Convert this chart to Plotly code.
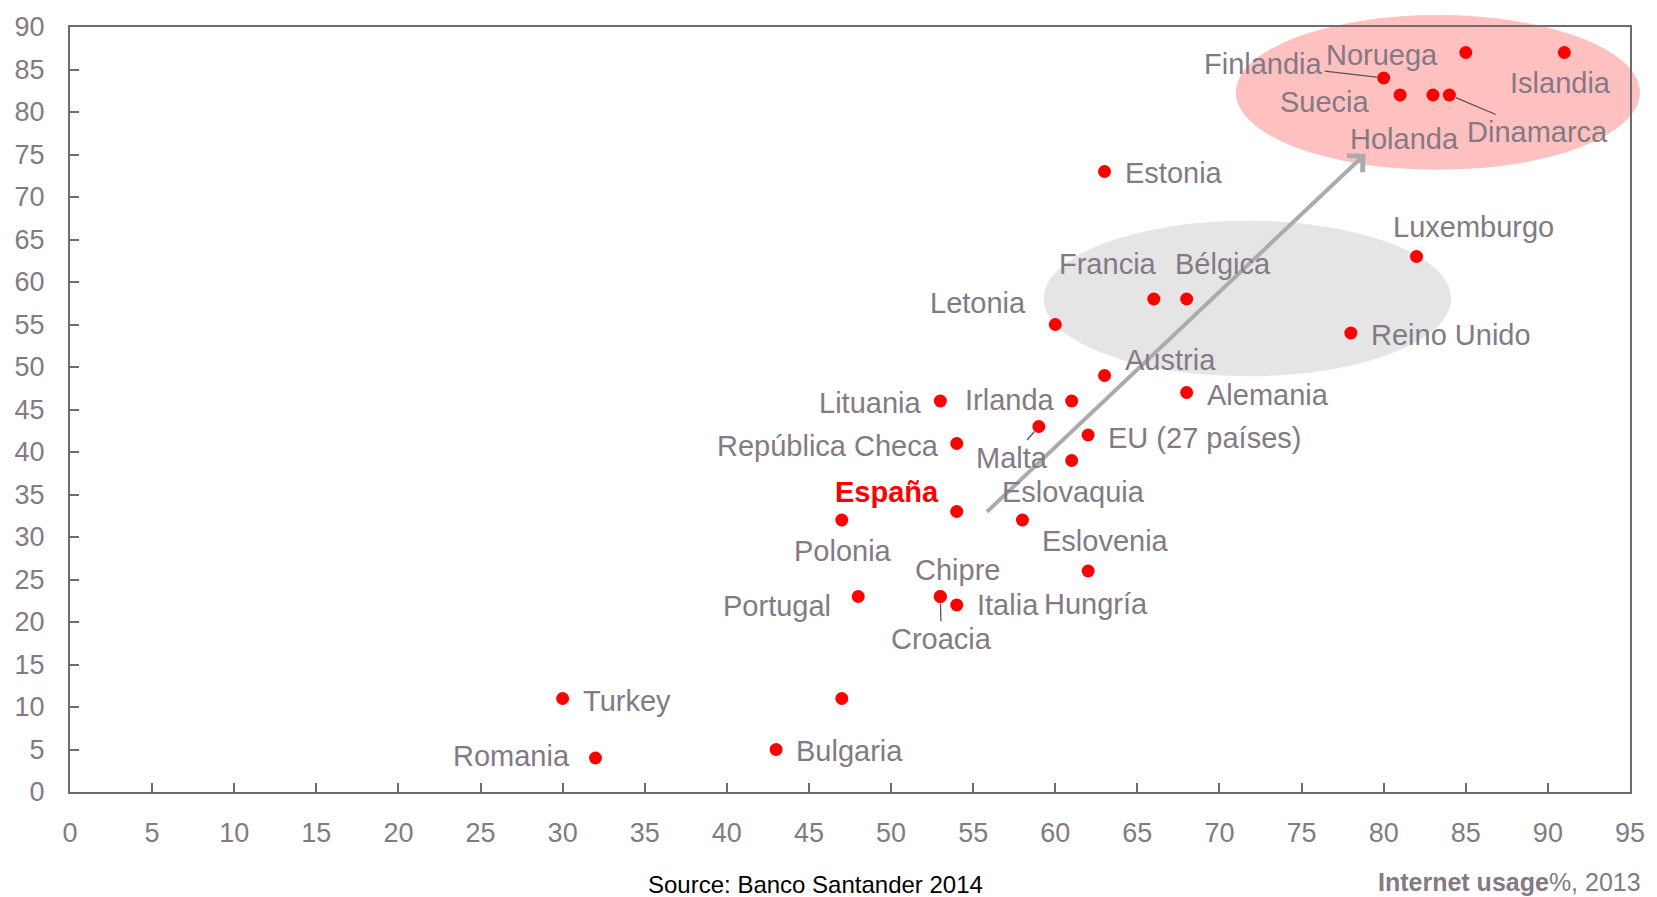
import plotly.graph_objects as go

# ---- data -------------------------------------------------------------
countries = [
    "Noruega", "Islandia", "Finlandia", "Suecia", "Holanda", "Dinamarca",
    "Estonia", "Luxemburgo", "Francia", "Bélgica", "Letonia", "Reino Unido",
    "Austria", "Alemania", "Lituania", "Irlanda", "Malta", "EU (27 países)",
    "República Checa", "Eslovaquia", "España", "Polonia", "Eslovenia",
    "Hungría", "Chipre", "Croacia", "Italia", "Portugal", "Turkey", "",
    "Romania", "Bulgaria",
]
internet_usage = [
    85, 91, 80, 81, 83, 84,
    63, 82, 66, 68, 60, 78,
    63, 68, 53, 61, 59, 62,
    54, 61, 54, 47, 58,
    62, 53, 53, 54, 48, 30, 47,
    32, 43,
]
y_pct = [
    87, 87, 84, 82, 82, 82,
    73, 63, 58, 58, 55, 54,
    49, 47, 46, 46, 43, 42,
    41, 39, 33, 32, 32,
    26, 23, 23, 22, 23, 11, 11,
    4, 5,
]

x_ticks = list(range(0, 100, 5))
y_ticks = list(range(0, 95, 5))
x_range = [0, 95]
y_range = [0, 90]

# ---- styling ----------------------------------------------------------
FONT = "Liberation Sans, Arial, sans-serif"
LABEL_GRAY = "#847985"
AXIS_GRAY = "#6d6d6d"
LABEL_SIZE = 29

# label placement: (anchor, xshift px, yshift px)
label_pos = {
    "Noruega": ("right", -26, -2),
    "Islandia": ("center", -4, -30),
    "Suecia": ("right", -28, -7),
    "Holanda": ("center", -28, -44),
    "Estonia": ("left", 18, -1),
    "Luxemburgo": ("center", 57, 30),
    "Francia": ("center", -46, 35),
    "Bélgica": ("center", 36, 35),
    "Letonia": ("right", -27, 22),
    "Reino Unido": ("left", 18, -2),
    "Austria": ("left", 18, 16),
    "Alemania": ("left", 18, -2),
    "Lituania": ("right", -17, -2),
    "Irlanda": ("right", -15, 1),
    "EU (27 países)": ("left", 18, -3),
    "República Checa": ("right", -16, -2),
    "Eslovaquia": ("center", 2, -31),
    "España": ("right", -16, 20),
    "Polonia": ("center", 1, -31),
    "Eslovenia": ("left", 18, -21),
    "Chipre": ("center", 17, 27),
    "Hungría": ("center", 8, -33),
    "Italia": ("left", 18, 0),
    "Portugal": ("right", -25, -9),
    "Turkey": ("left", 18, -2),
    "Romania": ("right", -23, 2),
    "Bulgaria": ("left", 18, -1),
}
# labels joined to their dot by a short leader line: (ax px, ay px)
leader_pos = {
    "Finlandia": (-120, -14),
    "Dinamarca": (88, 37),
    "Malta": (-27, 31),
    "Croacia": (1, 42),
}

fig = go.Figure()

fig.add_trace(go.Scatter(
    x=internet_usage, y=y_pct, mode="markers",
    marker=dict(color="#ff0000", size=13, line=dict(width=0)),
    hovertext=countries, hoverinfo="text", showlegend=False,
))


def to_paper(v, rng):
    return (v - rng[0]) / (rng[1] - rng[0])


# highlighted groups
fig.add_shape(type="circle", layer="below", xref="x", yref="y",
              x0=59.3, x1=84.1, y0=48.9, y1=67.2,
              fillcolor="#e5e5e5", line=dict(width=0))
fig.add_shape(type="circle", layer="below", xref="paper", yref="paper",
              x0=to_paper(71.0, x_range), x1=to_paper(95.6, x_range),
              y0=to_paper(73.2, y_range), y1=to_paper(91.4, y_range),
              fillcolor="#ffc0c0", line=dict(width=0))

# trend arrow
fig.add_annotation(x=78.9, y=75.1, ax=55.75, ay=32.8, xref="x", yref="y",
                   axref="x", ayref="y", text="", showarrow=True,
                   arrowhead=4, arrowsize=1.1, arrowwidth=4,
                   arrowcolor="#ababab")

annotations = []
for name, xv, yv in zip(countries, internet_usage, y_pct):
    if not name:
        continue
    is_es = name == "España"
    font = dict(family=FONT, size=LABEL_SIZE,
                color="#ff0000" if is_es else LABEL_GRAY)
    text = f"<b>{name}</b>" if is_es else name
    if name in leader_pos:
        ax, ay = leader_pos[name]
        annotations.append(dict(
            x=xv, y=yv, xref="x", yref="y", text=text, font=font,
            showarrow=True, ax=ax, ay=ay, arrowhead=0, arrowwidth=1.3,
            arrowcolor="#555555", standoff=7, startstandoff=0,
        ))
    else:
        anchor, dx, dy = label_pos[name]
        annotations.append(dict(
            x=xv, y=yv, xref="x", yref="y", text=text, font=font,
            showarrow=False, xanchor=anchor, yanchor="middle",
            xshift=dx, yshift=dy,
        ))

annotations.append(dict(
    x=1.0083, y=-0.117, xref="paper", yref="paper",
    text="<b>Internet usage</b>%, 2013", showarrow=False,
    xanchor="right", yanchor="middle",
    font=dict(family=FONT, size=25, color=LABEL_GRAY),
))
annotations.append(dict(
    x=0.4777, y=-0.121, xref="paper", yref="paper",
    text="Source: Banco Santander 2014", showarrow=False,
    xanchor="center", yanchor="middle",
    font=dict(family=FONT, size=24, color="#000000"),
))
for a in annotations:
    fig.add_annotation(**a)

axis_common = dict(
    showgrid=False, zeroline=False, showline=True, linecolor=AXIS_GRAY,
    linewidth=2, mirror=True, ticks="inside", ticklen=9, tickwidth=1.5,
    tickcolor=AXIS_GRAY, tickfont=dict(family=FONT, size=27, color=LABEL_GRAY),
)
fig.update_xaxes(range=x_range, tickvals=x_ticks, ticklabelstandoff=16,
                 ticklabeloverflow="allow", **axis_common)
fig.update_yaxes(range=y_range, tickvals=y_ticks, ticklabelstandoff=18,
                 ticklabeloverflow="allow", **axis_common)

fig.update_layout(
    width=1657, height=897,
    margin=dict(l=70, r=17, t=24, b=105),
    paper_bgcolor="white", plot_bgcolor="white",
    font=dict(family=FONT),
)

fig.write_html("out.html")
